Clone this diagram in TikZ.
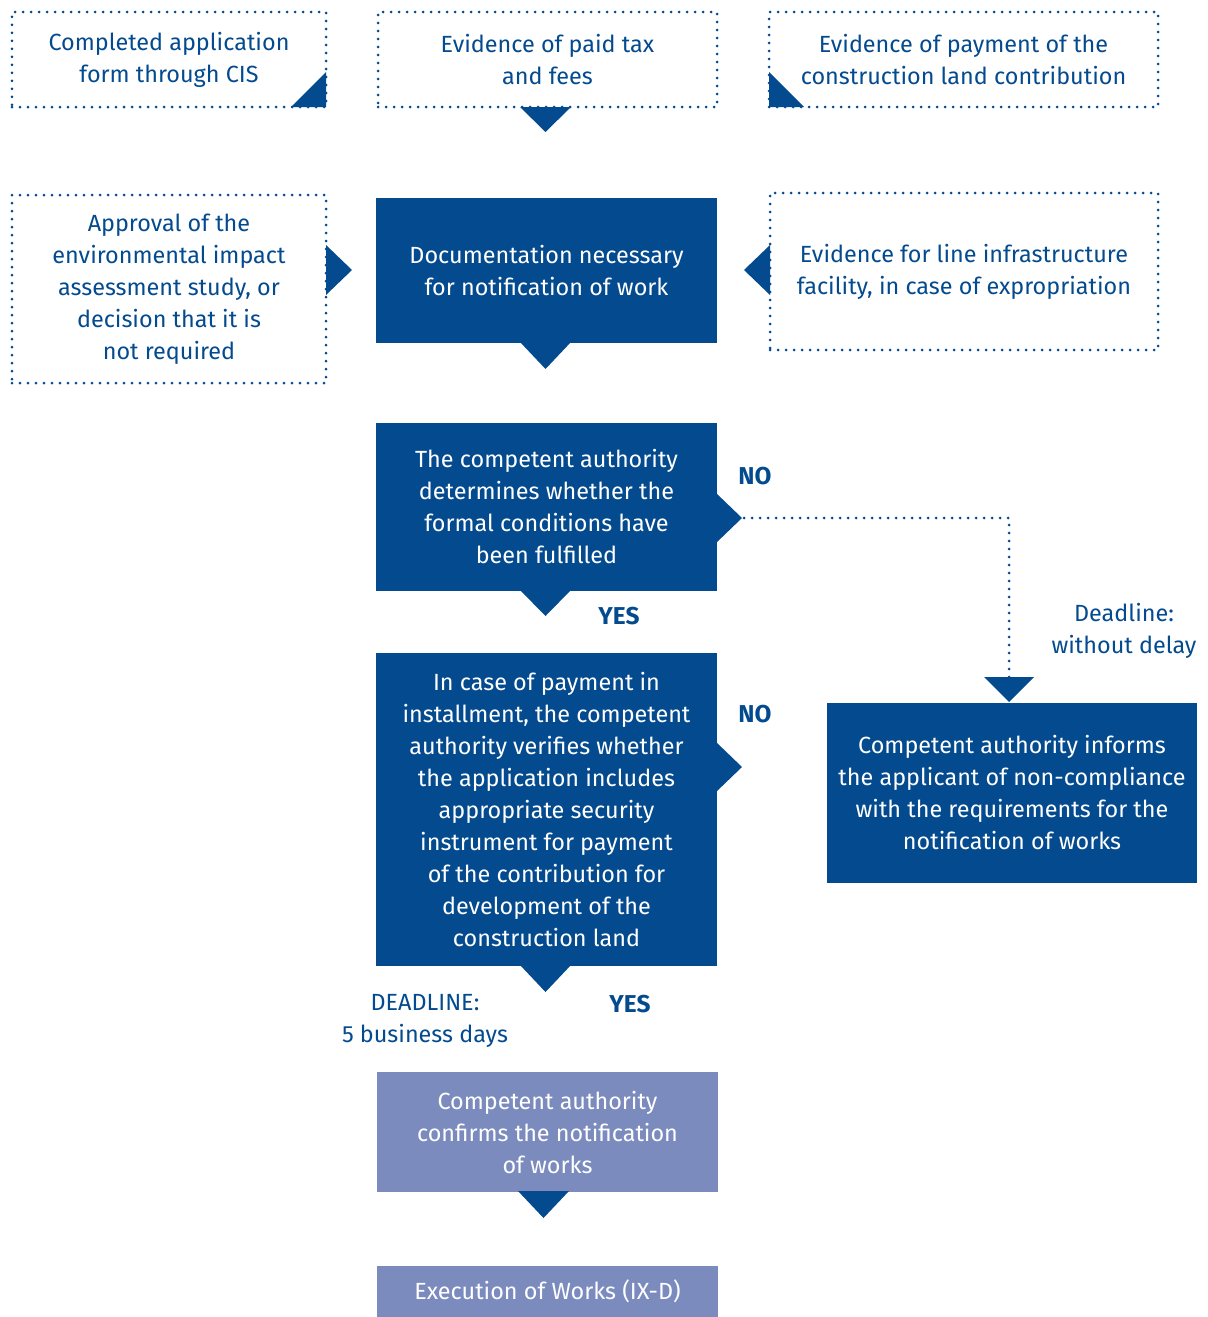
\documentclass[tikz,border=0pt]{standalone}
\usepackage{fontspec}
\setmainfont{Fira Sans}
\usepackage{xcolor}
\usetikzlibrary{arrows.meta}
\definecolor{navy}{RGB}{3,74,143}
\definecolor{lilac}{RGB}{123,139,190}
\tikzset{sz/.style 2 args={minimum width=#1*0.5pt,minimum height=#2*0.5pt,inner sep=0pt,align=center},
  dotbox/.style={draw=navy,line width=1.5pt,dash pattern=on 0pt off 4pt,line cap=round,text=navy},
  darkbox/.style={fill=navy,text=white},
  lightbox/.style={fill=lilac,text=white},
  lbl/.style={text=navy,align=center,inner sep=0pt},
  answer/.style={text=navy,inner sep=0pt,font=\fontsize{12.2}{16}\selectfont\bfseries},
  dotline/.style={navy,line width=1.5pt,dash pattern=on 0pt off 4pt,line cap=round}}

\begin{document}
\begin{tikzpicture}[x=0.5pt,y=-0.5pt,font=\fontsize{11.7}{16}\selectfont]
    \useasboundingbox (0,0) rectangle (1207,1317);

    % documents
    \node[dotbox,sz={314}{95}] (cis) at (169,59.5) {Completed application\\form through CIS};
    \node[dotbox,sz={339}{95}] (tax) at (547.5,59.5) {Evidence of paid tax\\and fees};
    \node[dotbox,sz={389}{95}] (land) at (963.5,59.5) {Evidence of payment of the\\construction land contribution};
    \node[dotbox,sz={314}{188}] (eia) at (169,289) {Approval of the\\environmental impact\\assessment study, or\\decision that it is\\not required};
    \node[darkbox,sz={341}{145}] (doc) at (546.5,270.5) {Documentation necessary\\for notification of work};
    \node[dotbox,sz={388}{157}] (line) at (964,271.5) {Evidence for line infrastructure\\facility, in case of expropriation};

    % checks
    \node[darkbox,sz={341}{168}] (formal) at (546.5,507) {The competent authority\\determines whether the\\formal conditions have\\been fulfilled};
    \node[darkbox,sz={341}{313}] (secur) at (546.5,809.5) {In case of payment in\\installment, the competent\\authority verifies whether\\the application includes\\appropriate security\\instrument for payment\\of the contribution for\\development of the\\construction land};
    \node[darkbox,sz={370}{180}] (reject) at (1012,793) {Competent authority informs\\the applicant of non-compliance\\with the requirements for the\\notification of works};
    \node[lightbox,sz={341}{120}] (confirm) at (547.5,1132) {Competent authority\\confirms the notification\\of works};
    \node[lightbox,sz={341}{51}] (exec) at (547.5,1291.5) {Execution of Works (IX-D)};

    % labels
    \node[answer] (no1) at (755,476) {NO};
    \node[answer] (yes1) at (619,616) {YES};
    \node[answer] (no2) at (755,714) {NO};
    \node[answer] (yes2) at (630,1004) {YES};
    \node[lbl] (dl1) at (1124,631) {Deadline:\\without delay};
    \node[lbl] (dl2) at (425,1021) {DEADLINE:\\5 business days};

    % pointers
    \fill[navy] (326,72) -- (326,107) -- (291,107) -- cycle;
    \fill[navy] (769,72) -- (769,107) -- (804,107) -- cycle;
    \fill[navy] (520,107) -- (571,107) -- (545.5,132) -- cycle;
    \fill[navy] (326,245) -- (352,270) -- (326,295) -- cycle;
    \fill[navy] (770,245) -- (744,270) -- (770,295) -- cycle;
    \fill[navy] (520,342) -- (571,342) -- (545.5,369) -- cycle;
    \fill[navy] (716,493) -- (742,518) -- (716,543) -- cycle;
    \fill[navy] (520,590) -- (571,590) -- (545.5,616) -- cycle;
    \fill[navy] (716,742) -- (742,767) -- (716,792) -- cycle;
    \fill[navy] (520,965) -- (571,965) -- (545.5,992) -- cycle;
    \fill[navy] (518,1191) -- (569,1191) -- (543.5,1218) -- cycle;

    \coordinate (notip) at (744,518);
    \coordinate (rtop) at (1009,702);
    \draw[dotline,-{Triangle[length=12.5pt,width=25pt,line width=0pt]}] (notip) -| (rtop);
\end{tikzpicture}
\end{document}
